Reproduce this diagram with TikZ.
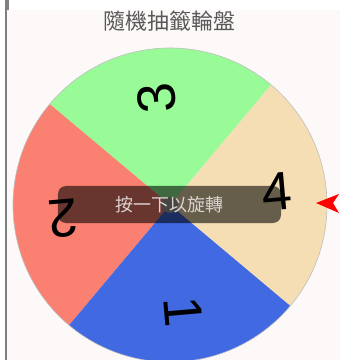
\documentclass[tikz,border=0pt]{standalone}
\usepackage{fontspec}
\newfontfamily\cjk{Noto Sans CJK TC}
\newfontfamily\digitfont{Liberation Sans}
\definecolor{wedgegreen}{HTML}{98FB98}
\definecolor{wedgered}{HTML}{FA8072}
\definecolor{wedgeblue}{HTML}{4169E1}
\definecolor{wedgepeach}{HTML}{F5DEB3}
\definecolor{pagebg}{HTML}{FDF9F8}
\definecolor{hinttext}{HTML}{DAD3D0}
\tikzset{
  digit/.style={font=\digitfont\fontsize{54bp}{56bp}\selectfont, inner sep=0pt},
  hint/.style={fill=black, fill opacity=0.58, text opacity=1, text=hinttext,
    rounded corners=8bp, minimum width=223bp, minimum height=37bp,
    font=\cjk\fontsize{18bp}{20bp}\selectfont},
}
\begin{document}
\begin{tikzpicture}[x=1bp,y=1bp]
\useasboundingbox (0,0) rectangle (340,360);
\fill[white] (0,0) rectangle (340,360);
\fill[pagebg] (7,0) rectangle (340,350);
\fill[gray] (5,0) rectangle (7,360);
\fill[gray] (5,350) rectangle (9,360);
\node[font=\cjk\fontsize{22bp}{24bp}\selectfont, text=black!65] (title) at (170,339) {隨機抽籤輪盤};
\begin{scope}[shift={(170,155)}]
\coordinate (C) at (0,0);
\foreach\a/\c/\n in {320/wedgepeach/4, 50/wedgegreen/3, 140/wedgered/2, 230/wedgeblue/1} {
  \fill[\c] (C) -- (\a:157bp) arc[start angle=\a, end angle=\a+90, radius=157bp] -- cycle;
  \node[digit, rotate=\a+45] (n\n) at (\a+47:108bp) {\n};
}
\draw[black!25, line width=0.6bp] (C) circle(157bp);
\fill[gray!70] (C) circle(8bp);
\end{scope}
\node[hint] (spin) at (169.5,155.5) {按一下以旋轉};
\coordinate (tip) at (316,157);
\fill[red] (tip) -- (339,166) -- (333,157) -- (339,147) -- cycle;
\end{tikzpicture}
\end{document}
